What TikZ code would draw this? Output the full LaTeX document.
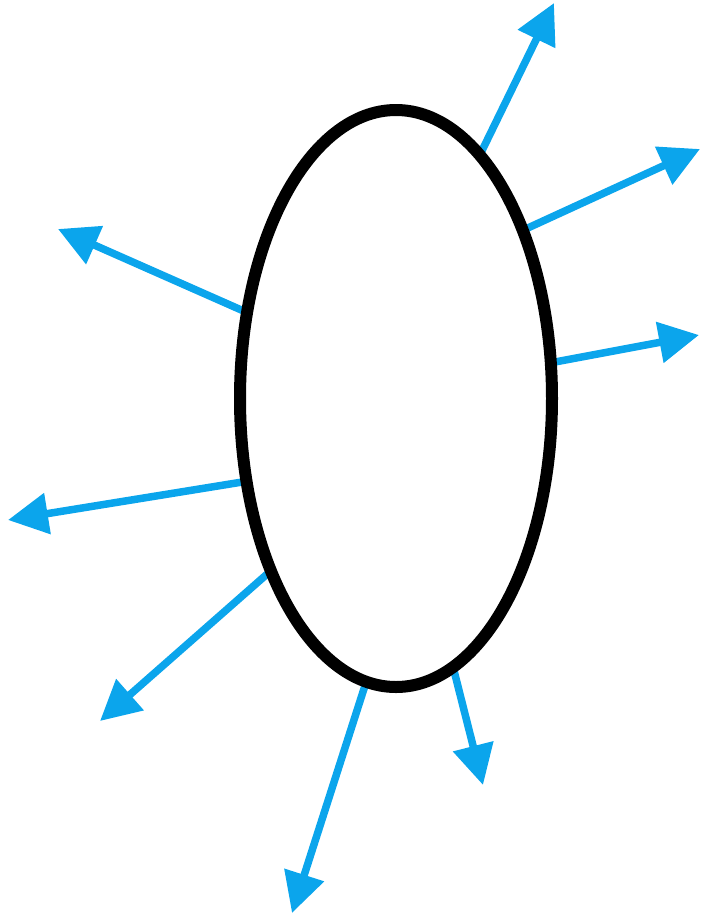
\documentclass[tikz,border=0pt]{standalone}
\usetikzlibrary{arrows.meta,shapes.geometric}
\definecolor{flujo}{RGB}{11,165,236}
\begin{document}
\begin{tikzpicture}[
    x=1pt, y=-1pt,
    flecha/.style={flujo,line width=7.5pt,-{Triangle[length=40pt,width=40pt]}}]
    \useasboundingbox (0,0) rectangle (702,914);

    % Superficie cerrada.
    \node[ellipse,minimum width=312pt,minimum height=577pt,
        inner sep=0pt,outer sep=0pt] (S) at (396,398.5) {};

    % Puntas de los vectores normales.
    \coordinate (p1) at (554,3);
    \coordinate (p2) at (700,149);
    \coordinate (p3) at (699,335);
    \coordinate (p4) at (58,229);
    \coordinate (p5) at (8,520);
    \coordinate (p6) at (100,721);
    \coordinate (p7) at (292,913);
    \coordinate (p8) at (483,785);

    % Campo saliendo de la superficie.
    \foreach \a/\p in {71.8/p1,53.3/p2,13.4/p3,150.4/p4,
                       209/p5,234.6/p6,264.5/p7,282.2/p8} {
        \draw[flecha] (S.\a) -- (\p);
    }

    % Borde de la superficie.
    \draw[line width=12pt] (S.center) ellipse[x radius=156,y radius=288.5];
\end{tikzpicture}
\end{document}
